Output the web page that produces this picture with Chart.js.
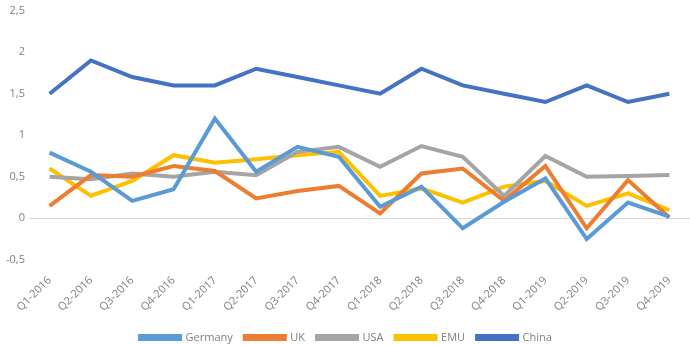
<!DOCTYPE html>
<html>
<head>
<meta charset="utf-8">
<script src="https://cdn.jsdelivr.net/npm/chart.js@4"></script>
<style>
  html, body { margin: 0; padding: 0; background: #fff; }
  #wrap { width: 690px; height: 345px; }
</style>
</head>
<body>
<div id="wrap"><canvas id="growthChart"></canvas></div>
<script>
const quarters = ['Q1-2016', 'Q2-2016', 'Q3-2016', 'Q4-2016', 'Q1-2017', 'Q2-2017', 'Q3-2017', 'Q4-2017',
                  'Q1-2018', 'Q2-2018', 'Q3-2018', 'Q4-2018', 'Q1-2019', 'Q2-2019', 'Q3-2019', 'Q4-2019'];
const germany = [0.79, 0.56, 0.21, 0.35, 1.2, 0.56, 0.86, 0.74, 0.14, 0.38, -0.12, 0.2, 0.48, -0.25, 0.19, 0.02];
const uk      = [0.15, 0.52, 0.5, 0.63, 0.57, 0.24, 0.33, 0.39, 0.06, 0.54, 0.6, 0.21, 0.63, -0.12, 0.46, 0.01];
const usa     = [0.5, 0.47, 0.54, 0.5, 0.56, 0.52, 0.8, 0.86, 0.62, 0.87, 0.74, 0.27, 0.75, 0.5, 0.51, 0.52];
const emu     = [0.6, 0.27, 0.45, 0.76, 0.67, 0.71, 0.76, 0.8, 0.27, 0.36, 0.19, 0.38, 0.45, 0.15, 0.3, 0.1];
const china   = [1.5, 1.9, 1.7, 1.6, 1.6, 1.8, 1.7, 1.6, 1.5, 1.8, 1.6, 1.5, 1.4, 1.6, 1.4, 1.5];

function series(label, data, color) {
    return {
        label: label,
        data: data,
        borderColor: color,
        backgroundColor: color,
        borderWidth: 4,
        pointRadius: 0,
        tension: 0,
        fill: false
    };
}

const ctx = document.getElementById('growthChart').getContext('2d');
new Chart(ctx, {
    type: 'line',
    data: {
        labels: quarters,
        datasets: [
            series('Germany', germany, '#5B9BD5'),
            series('UK', uk, '#ED7D31'),
            series('USA', usa, '#A5A5A5'),
            series('EMU', emu, '#FFC000'),
            series('China', china, '#4472C4')
        ]
    },
    options: {
        responsive: true,
        maintainAspectRatio: false,
        animation: false,
        layout: { padding: { top: -8, right: 0, left: 2, bottom: -8 } },
        plugins: {
            legend: {
                display: true,
                position: 'bottom',
                labels: {
                    boxWidth: 40,
                    boxHeight: 3,
                    padding: 12,
                    color: '#7f7f7f',
                    font: { family: 'Open Sans', size: 11 }
                }
            },
            tooltip: { enabled: false }
        },
        scales: {
            y: {
                min: -0.5,
                max: 2.5,
                ticks: {
                    stepSize: 0.5,
                    color: '#7f7f7f',
                    padding: 4,
                    font: { family: 'Open Sans', size: 11 },
                    callback: v => String(v).replace('.', ',')
                },
                border: { display: false },
                grid: {
                    drawTicks: false,
                    color: c => c.tick && c.tick.value === 0 ? '#d9d9d9' : 'rgba(0,0,0,0)'
                }
            },
            x: {
                offset: true,
                ticks: {
                    minRotation: 45,
                    maxRotation: 45,
                    padding: 6,
                    color: '#7f7f7f',
                    font: { family: 'Open Sans', size: 11 },
                    autoSkip: false
                },
                border: { display: false },
                grid: { display: false }
            }
        }
    }
});
</script>
</body>
</html>
